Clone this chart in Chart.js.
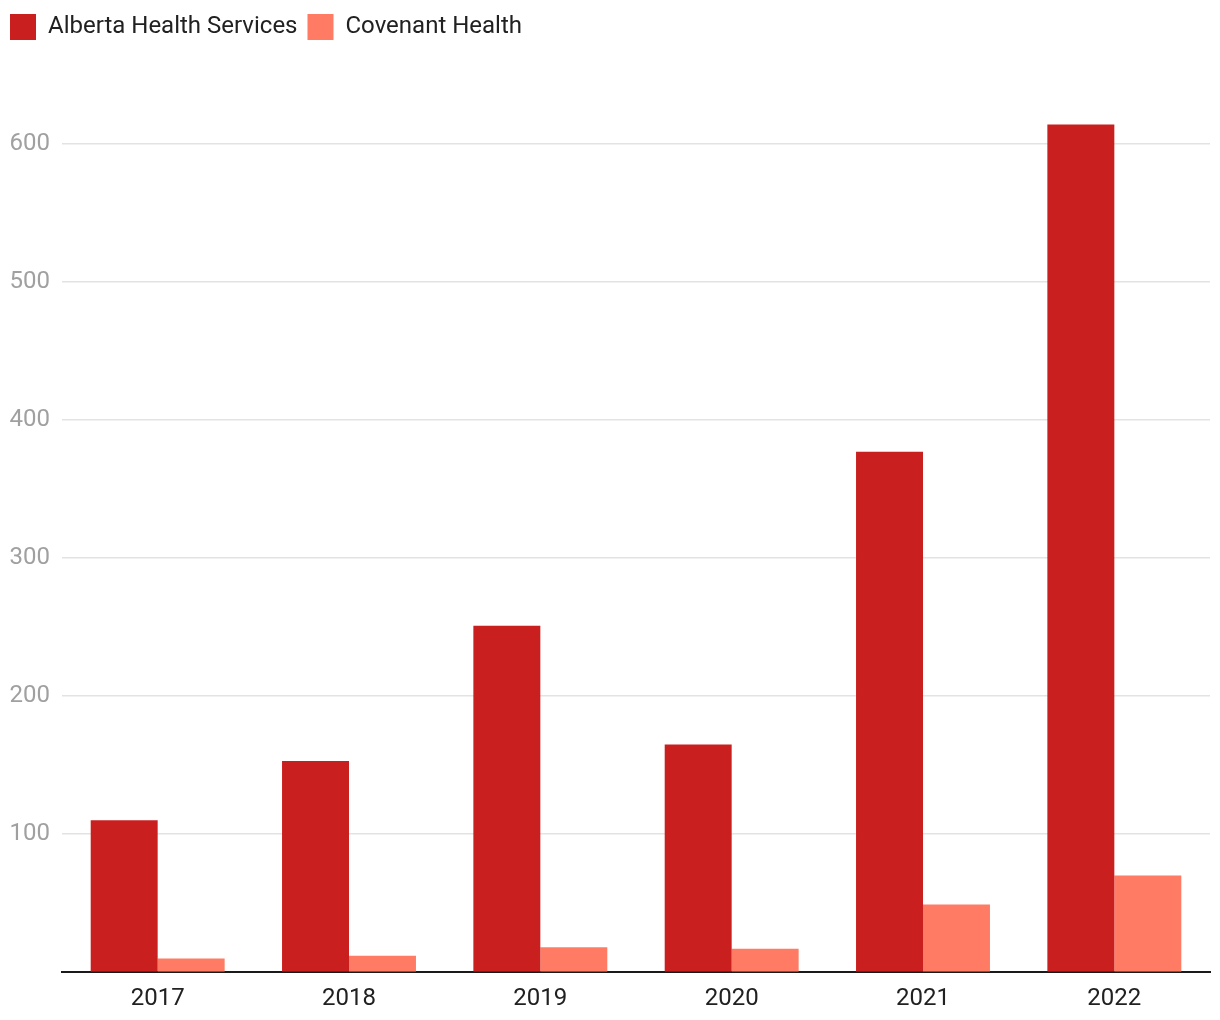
<!DOCTYPE html>
<html>
<head>
<meta charset="utf-8">
<script src="https://cdn.jsdelivr.net/npm/chart.js@4"></script>
<style>
  html, body { margin: 0; padding: 0; background: #fff; }
  #wrap { width: 1220px; height: 1020px; }
</style>
</head>
<body>
<div id="wrap"><canvas id="chart" width="1220" height="1020"></canvas></div>
<script>
// data
const years = ['2017', '2018', '2019', '2020', '2021', '2022'];
const ahsValues = [110, 153, 251, 165, 377, 614];
const covenantValues = [10, 12, 18, 17, 49, 70];
const yTicks = [0, 100, 200, 300, 400, 500, 600];

const ctx = document.getElementById('chart').getContext('2d');

new Chart(ctx, {
  type: 'bar',
  data: {
    labels: years,
    datasets: [
      { label: 'Alberta Health Services', data: ahsValues, backgroundColor: '#c91f1f' },
      { label: 'Covenant Health', data: covenantValues, backgroundColor: '#ff7b63' }
    ]
  },
  options: {
    responsive: false,
    animation: false,
    layout: { padding: { left: 0, right: 10, top: 4, bottom: 3 } },
    datasets: { bar: { categoryPercentage: 0.7, barPercentage: 1.0 } },
    plugins: {
      legend: {
        position: 'top',
        align: 'start',
        labels: {
          boxWidth: 26, boxHeight: 26, padding: 10,
          color: '#212121',
          font: { family: 'Roboto', size: 24 }
        }
      },
      tooltip: { enabled: false }
    },
    scales: {
      x: {
        grid: { display: false },
        border: { color: '#1a1a1a', width: 2 },
        ticks: { color: '#212121', padding: 4, font: { family: 'Roboto', size: 24 } }
      },
      y: {
        min: 0,
        max: 668,
        afterBuildTicks: (axis) => { axis.ticks = yTicks.map(v => ({ value: v })); },
        afterFit: (axis) => { axis.width = 62; },
        grid: { color: '#e3e3e3', lineWidth: 1.5, drawTicks: false },
        border: { display: false },
        ticks: {
          color: '#a0a0a0', padding: 12,
          font: { family: 'Roboto', size: 24 },
          callback: (v) => v === 0 ? '' : v
        }
      }
    }
  }
});
</script>
</body>
</html>
